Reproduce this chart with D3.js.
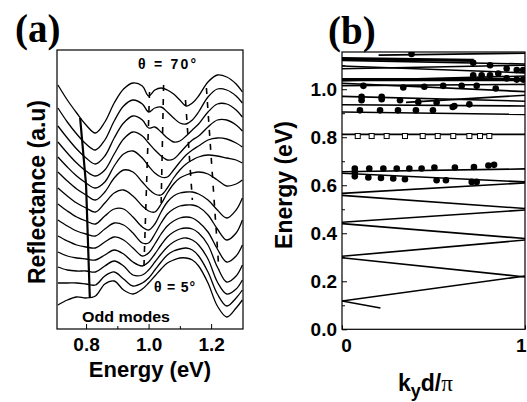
<!DOCTYPE html>
<html><head><meta charset="utf-8">
<script src="https://cdn.jsdelivr.net/npm/d3@7"></script>
<style>body{margin:0;background:#fff}svg{display:block}</style>
</head><body>
<svg id="c" width="527" height="402"></svg>
<script>
// ---------- Panel (a) data ----------
const energies = [0.71,0.74,0.77,0.80,0.83,0.86,0.89,0.92,0.95,0.98,1.00,1.02,1.04,1.06,1.08,1.10,1.12,1.14,1.16,1.19,1.22,1.25,1.28,1.30];
const angles = [70,65,60,55,50,45,40,35,30,25,20,15,10,5];
const r70 = [244,229,216,204,196,207,226,240,246,243,233,239,241,239,235,229,223,226,233,247,254,252,245,237];
const r65 = [221,207,195,185,179,189,208,223,229,225,217,221,222,217,211,206,205,209,217,232,240,239,233,226];
const r60 = [203,191,180,171,165,173,191,206,213,209,201,202,197,191,187,188,193,199,205,217,225,225,219,212];
const r55 = [187,176,166,158,153,159,175,190,197,193,186,179,173,169,170,176,183,189,193,202,209,209,204,198];
const r50 = [172,162,153,146,141,147,163,175,178,171,163,156,152,152,159,167,174,179,183,189,191,190,186,182];
const r45 = [157,148,140,134,129,137,151,159,157,147,140,135,134,141,151,159,165,169,172,174,173,171,169,166];
const r40 = [141,133,126,121,117,126,136,139,133,123,118,117,125,136,145,151,154,156,157,155,149,143,145,149];
const r35 = [125,118,112,108,105,113,120,120,112,102,99,105,117,127,133,136,137,137,135,129,119,111,119,131];
const r30 = [109,103,98,95,93,100,106,104,96,86,86,95,106,115,120,123,124,124,122,114,100,89,96,109];
const r25 = [93,88,84,82,81,87,92,89,81,73,76,85,95,103,108,111,112,111,107,97,80,67,73,84];
const r20 = [77,73,71,70,69,74,79,75,67,63,67,75,84,92,97,100,101,100,96,84,62,47,53,64];
const r15 = [62,59,58,58,57,63,68,63,54,54,59,67,75,82,87,90,91,89,84,70,47,35,40,49];
const r10 = [46,46,46,45,44,53,57,50,43,46,51,59,67,74,78,80,81,79,73,57,35,23,31,39];
const r05 = [24,29,32,31,33,45,48,39,35,40,46,53,60,66,69,71,71,69,63,46,23,12,21,29];
const spectra = [r70,r65,r60,r55,r50,r45,r40,r35,r30,r25,r20,r15,r10,r05];
const oddModeE = [0.781,0.800,0.812];
const oddModeR = [211,144,31];
const dashE0 = [1.003,1.048,1.118,1.185];
const dashR0 = [237,244,229,241];
const dashE1 = [0.985,1.040,1.140,1.225];
const dashR1 = [61,124,129,59];
const ticksA = [0.8,1.0,1.2];
const minorA = [0.9,1.1];

// ---------- Panel (b) data ----------
const bandK0 = [0,0,0,0,0,0,0,0,0,0,0,0,0,0,0.35,0,0,0,0,0,0,0,0,0.2];
const bandE0 = [0.118,0.118,0.298,0.304,0.440,0.446,0.558,0.566,0.650,0.656,0.812,0.905,0.935,0.970,0.945,1.015,1.025,1.035,1.040,1.085,1.097,1.120,1.127,1.142];
const bandK1 = [1,0.21,1,1,1,1,1,1,1,1,1,1,1,1,1,1,1,1,1,1,1,1,0.72,1];
const bandE1 = [0.222,0.089,0.218,0.372,0.378,0.497,0.503,0.610,0.614,0.668,0.812,0.895,0.930,0.950,0.975,1.020,0.990,1.055,1.040,1.100,1.068,1.105,1.120,1.150];
const dotK = [0.07,0.149,0.226,0.299,0.368,0.435,0.505,0.617,0.721,0.80,0.831,
              0.07,0.144,0.213,0.28,0.344,0.517,0.568,0.709,0.736,0.07,
              0.098,0.208,0.306,0.404,0.497,0.605,0.696,
              0.107,0.217,0.317,0.417,0.517,0.614,0.107,0.217,
              0.117,0.335,0.45,0.553,0.654,0.736,0.84,
              0.717,0.763,0.809,0.854,0.9,0.955,0.99,
              0.809,0.9,0.955,0.99,0.717,0.38];
const dotE = [0.670,0.670,0.670,0.670,0.670,0.670,0.674,0.674,0.676,0.682,0.685,
              0.637,0.632,0.630,0.628,0.625,0.621,0.621,0.614,0.614,0.655,
              0.912,0.912,0.912,0.912,0.912,0.926,0.937,
              0.954,0.958,0.954,0.947,0.945,0.930,0.968,0.968,
              1.014,1.007,1.010,1.014,1.014,1.014,1.003,
              1.058,1.058,1.058,1.065,1.045,1.040,1.040,
              1.100,1.086,1.080,1.080,1.110,1.147];
const squareK = [0.086,0.162,0.244,0.344,0.441,0.523,0.608,0.696,0.754,0.805];
const squareE = [0.805,0.805,0.805,0.805,0.805,0.805,0.805,0.805,0.805,0.805];
const ticksB = [0,0.2,0.4,0.6,0.8,1.0];
const minorB = [0.1,0.3,0.5,0.7,0.9,1.1];
const ticksBx = [0,1];

// ---------- drawing ----------
const FONT = "Liberation Sans, Arial, Helvetica, sans-serif";
const svg = d3.select("#c");

// Panel (a)
const xA = d3.scaleLinear().domain([0.707,1.302]).range([57,243]);
const yA = d3.scaleLinear().domain([0,279]).range([329,50]);
svg.append("clipPath").attr("id","ca").append("rect").attr("x",57).attr("y",50).attr("width",186).attr("height",279);
const gA = svg.append("g").attr("clip-path","url(#ca)");
const lineA = d3.line().x((d,i)=>xA(energies[i])).y(d=>yA(d)).curve(d3.curveCatmullRom.alpha(0.5));
gA.selectAll("path.sp").data(spectra).join("path").attr("class","sp")
  .attr("d",lineA).attr("fill","none").attr("stroke","#000").attr("stroke-width",1.3);
gA.append("path").datum(oddModeE.map((e,i)=>[e,oddModeR[i]]))
  .attr("d",d3.line().x(d=>xA(d[0])).y(d=>yA(d[1])))
  .attr("fill","none").attr("stroke","#000").attr("stroke-width",2.2);
gA.selectAll("line.dash").data(dashE0).join("line").attr("class","dash")
  .attr("x1",(d,i)=>xA(dashE0[i])).attr("y1",(d,i)=>yA(dashR0[i]))
  .attr("x2",(d,i)=>xA(dashE1[i])).attr("y2",(d,i)=>yA(dashR1[i]))
  .attr("stroke","#000").attr("stroke-width",1.6).attr("stroke-dasharray","6,8");
svg.append("rect").attr("x",57).attr("y",50).attr("width",186).attr("height",279)
  .attr("fill","none").attr("stroke","#000").attr("stroke-width",1.2);
const axA = svg.append("g").attr("transform","translate(0,329)")
  .call(d3.axisBottom(xA).tickValues(ticksA).tickFormat(d3.format(".1f")).tickSize(-5).tickPadding(9));
axA.select(".domain").remove();
axA.selectAll("text").attr("font-size",19).attr("font-weight","bold").attr("font-family",FONT).attr("fill","#000");
const axAm = svg.append("g").attr("transform","translate(0,329)")
  .call(d3.axisBottom(xA).tickValues(minorA).tickFormat("").tickSize(-3));
axAm.select(".domain").remove();

svg.append("text").attr("x",150).attr("y",377).attr("text-anchor","middle")
  .attr("font-family",FONT).attr("font-weight","bold").attr("font-size",22).text("Energy (eV)");
svg.append("text").attr("transform","translate(45,192) rotate(-90)").attr("text-anchor","middle")
  .attr("font-family",FONT).attr("font-weight","bold").attr("font-size",23).text("Reflectance (a.u)");
svg.append("text").attr("x",15).attr("y",42).attr("font-family","Liberation Serif, Times New Roman, serif")
  .attr("font-weight","bold").attr("font-size",39).text("(a)");
svg.append("text").attr("x",138).attr("y",69).attr("font-family",FONT).attr("font-weight","bold")
  .attr("font-size",14).attr("textLength",58).attr("lengthAdjust","spacing").text("θ = 70°");
svg.append("text").attr("x",154).attr("y",292).attr("font-family",FONT).attr("font-weight","bold")
  .attr("font-size",14).attr("textLength",41).attr("lengthAdjust","spacing").text("θ = 5°");
svg.append("text").attr("x",82).attr("y",322).attr("font-family",FONT).attr("font-weight","bold")
  .attr("font-size",15.5).attr("textLength",88).attr("lengthAdjust","spacingAndGlyphs").text("Odd modes");

// Panel (b)
const xB = d3.scaleLinear().domain([0,1]).range([342,525]);
const yB = d3.scaleLinear().domain([0,1.155]).range([329.3,52]);
svg.append("clipPath").attr("id","cb").append("rect").attr("x",342).attr("y",52).attr("width",183).attr("height",277.3);
const gB = svg.append("g").attr("clip-path","url(#cb)");
const thick = new Set([18,22]);
gB.selectAll("line.band").data(bandE0).join("line").attr("class","band")
  .attr("x1",(d,i)=>xB(bandK0[i])).attr("y1",(d,i)=>yB(bandE0[i]))
  .attr("x2",(d,i)=>xB(bandK1[i])).attr("y2",(d,i)=>yB(bandE1[i]))
  .attr("stroke","#000").attr("stroke-width",(d,i)=>thick.has(i)?3.2:1.6);
gB.selectAll("circle.dot").data(dotK).join("circle").attr("class","dot")
  .attr("cx",(d,i)=>xB(dotK[i])).attr("cy",(d,i)=>yB(dotE[i])).attr("r",3.3).attr("fill","#000");
gB.selectAll("rect.sq").data(squareK).join("rect").attr("class","sq")
  .attr("x",(d,i)=>xB(squareK[i])-2.5).attr("y",(d,i)=>yB(squareE[i])-2.5)
  .attr("width",5).attr("height",5).attr("fill","#fff").attr("stroke","#000").attr("stroke-width",1);
svg.append("rect").attr("x",342).attr("y",52).attr("width",183).attr("height",277.3)
  .attr("fill","none").attr("stroke","#000").attr("stroke-width",1.2);
const axBy = svg.append("g").attr("transform","translate(342,0)")
  .call(d3.axisLeft(yB).tickValues(ticksB).tickFormat(d3.format(".1f")).tickSize(-5).tickPadding(5));
axBy.select(".domain").remove();
axBy.selectAll("text").attr("font-size",19).attr("font-weight","bold").attr("font-family",FONT).attr("fill","#000");
const axBym = svg.append("g").attr("transform","translate(342,0)")
  .call(d3.axisLeft(yB).tickValues(minorB).tickFormat("").tickSize(-3));
axBym.select(".domain").remove();
const axBx = svg.append("g").attr("transform","translate(0,329.3)")
  .call(d3.axisBottom(xB).tickValues(ticksBx).tickFormat(d3.format("d")).tickSize(-4).tickPadding(9));
axBx.select(".domain").remove();
axBx.selectAll("text").attr("font-size",19).attr("font-weight","bold").attr("font-family",FONT).attr("fill","#000")
  .attr("text-anchor",(d)=>d===0?"middle":"end").attr("dx",(d)=>d===0?4:1);

svg.append("text").attr("transform","translate(292,185) rotate(-90)").attr("text-anchor","middle")
  .attr("font-family",FONT).attr("font-weight","bold").attr("font-size",23).text("Energy (eV)");
svg.append("text").attr("x",328).attr("y",44).attr("font-family","Liberation Serif, Times New Roman, serif")
  .attr("font-weight","bold").attr("font-size",39).text("(b)");
const kt = svg.append("text").attr("x",398).attr("y",391).attr("font-family",FONT).attr("font-weight","bold").attr("font-size",23);
kt.append("tspan").text("k");
kt.append("tspan").attr("dy",6).attr("font-size",18).text("y");
kt.append("tspan").attr("dy",-6).text("d/");
kt.append("tspan").attr("font-family","Liberation Serif, Times New Roman, serif").attr("font-weight","normal").text("π");
</script>
</body></html>
